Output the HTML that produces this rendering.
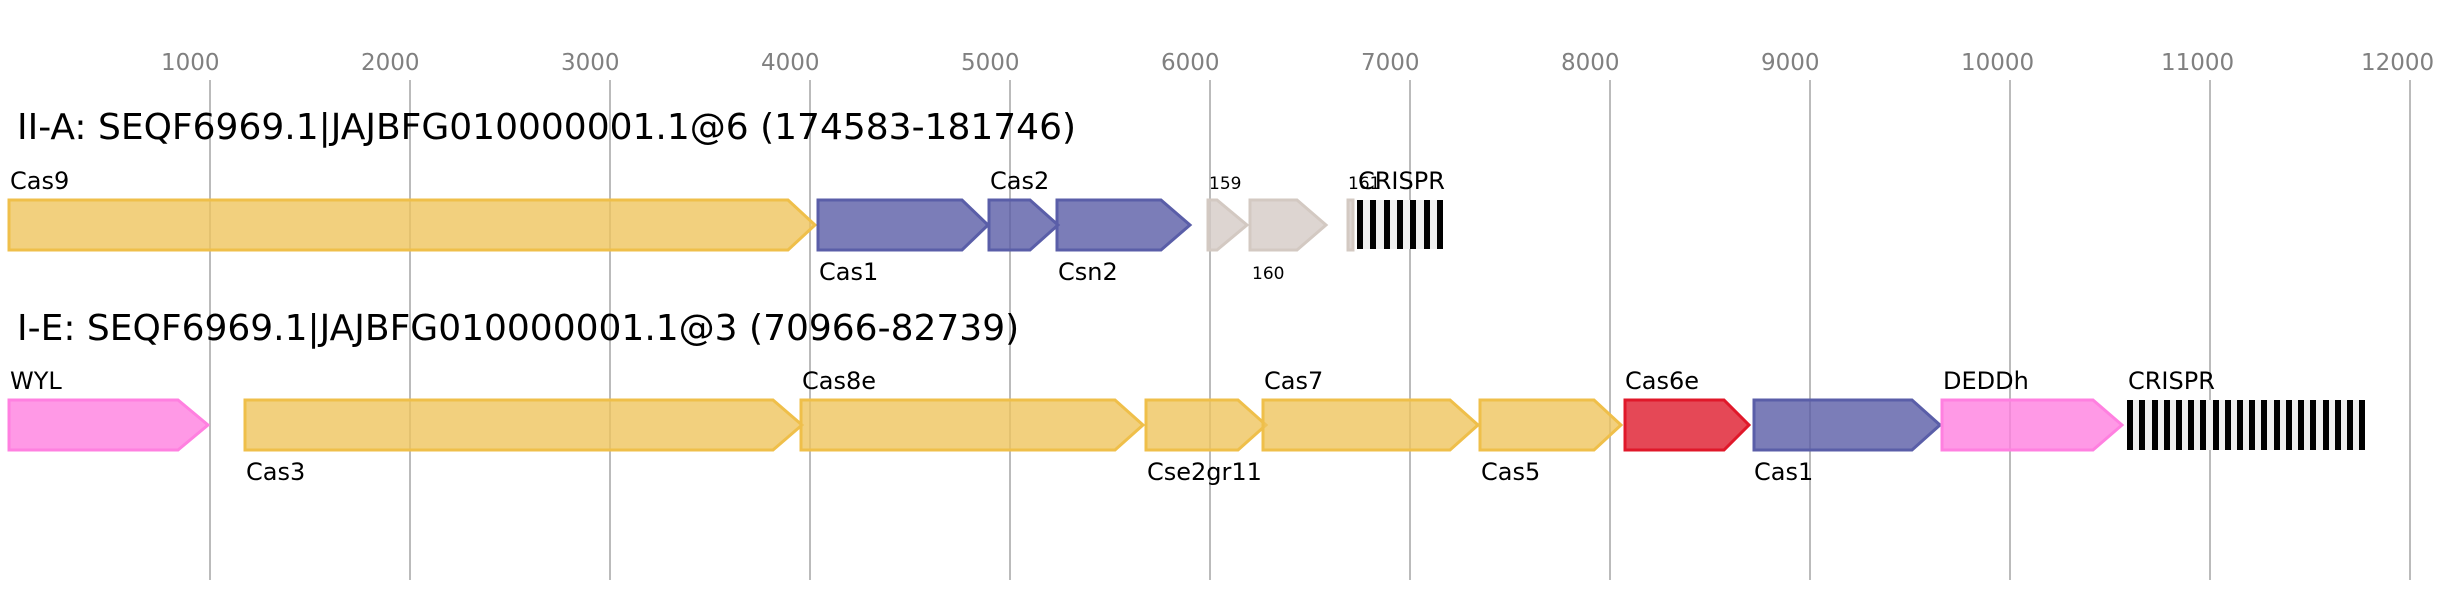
<!DOCTYPE html>
<html><head><meta charset="utf-8"><style>html,body{margin:0;padding:0;background:#fff}svg{display:block}</style></head>
<body>
<svg width="2455" height="600" xmlns="http://www.w3.org/2000/svg" font-family="'DejaVu Sans','Liberation Sans',sans-serif">
<g fill="#808080" font-size="23">
<text x="161" y="70">1000</text><text x="361" y="70">2000</text><text x="561" y="70">3000</text><text x="761" y="70">4000</text>
<text x="961" y="70">5000</text><text x="1161" y="70">6000</text><text x="1361" y="70">7000</text><text x="1561" y="70">8000</text>
<text x="1761" y="70">9000</text><text x="1961" y="70">10000</text><text x="2161" y="70">11000</text><text x="2361" y="70">12000</text>
</g>
<g stroke="#bbb" stroke-width="2">
<line x1="210" y1="80" x2="210" y2="580"/><line x1="410" y1="80" x2="410" y2="580"/><line x1="610" y1="80" x2="610" y2="580"/>
<line x1="810" y1="80" x2="810" y2="580"/><line x1="1010" y1="80" x2="1010" y2="580"/><line x1="1210" y1="80" x2="1210" y2="580"/>
<line x1="1410" y1="80" x2="1410" y2="580"/><line x1="1610" y1="80" x2="1610" y2="580"/><line x1="1810" y1="80" x2="1810" y2="580"/>
<line x1="2010" y1="80" x2="2010" y2="580"/><line x1="2210" y1="80" x2="2210" y2="580"/><line x1="2410" y1="80" x2="2410" y2="580"/>
</g>
<text x="17" y="139" font-size="36" fill="#000">II-A: SEQF6969.1|JAJBFG010000001.1@6 (174583-181746)</text>
<text x="17" y="340" font-size="36" fill="#000">I-E: SEQF6969.1|JAJBFG010000001.1@3 (70966-82739)</text>
<g stroke-width="3" fill-opacity="0.8">
<!-- row 1 -->
<polygon points="9,200 788,200 815,225 788,250 9,250" fill="#efc45e" stroke="#efbf4a"/>
<polygon points="818,200 962,200 988,225 962,250 818,250" fill="#5a5ca6" stroke="#5a5ea8"/>
<polygon points="989,200 1030,200 1058,225 1030,250 989,250" fill="#5a5ca6" stroke="#5a5ea8"/>
<polygon points="1057,200 1161,200 1190,225 1161,250 1057,250" fill="#5a5ca6" stroke="#5a5ea8"/>
<polygon points="1208,200 1217,200 1247,225 1217,250 1208,250" fill="#d5cbc5" stroke="#d3c9c2"/>
<polygon points="1250,200 1297,200 1326,225 1297,250 1250,250" fill="#d5cbc5" stroke="#d3c9c2"/>
<rect x="1348" y="200" width="5" height="50" fill="#d5cbc5" stroke="#d3c9c2"/>
<!-- row 2 -->
<polygon points="9,400 178,400 208,425 178,450 9,450" fill="#ff80e0" stroke="#ff80e0"/>
<polygon points="245,400 773,400 802,425 773,450 245,450" fill="#efc45e" stroke="#efbf4a"/>
<polygon points="801,400 1115,400 1143,425 1115,450 801,450" fill="#efc45e" stroke="#efbf4a"/>
<polygon points="1146,400 1238,400 1266,425 1238,450 1146,450" fill="#efc45e" stroke="#efbf4a"/>
<polygon points="1263,400 1450,400 1478,425 1450,450 1263,450" fill="#efc45e" stroke="#efbf4a"/>
<polygon points="1480,400 1594,400 1621,425 1594,450 1480,450" fill="#efc45e" stroke="#efbf4a"/>
<polygon points="1625,400 1724,400 1749,425 1724,450 1625,450" fill="#de1a2c" stroke="#e0182a"/>
<polygon points="1754,400 1912,400 1940,425 1912,450 1754,450" fill="#5a5ca6" stroke="#5a5ea8"/>
<polygon points="1942,400 2093,400 2122,425 2093,450 1942,450" fill="#ff80e0" stroke="#ff80e0"/>
</g>
<rect x="1357" y="200" width="86" height="49" fill="#efefef"/>
<g fill="#000">
<rect x="1357" y="200" width="6" height="49"/><rect x="1370" y="200" width="6" height="49"/><rect x="1384" y="200" width="6" height="49"/>
<rect x="1397" y="200" width="6" height="49"/><rect x="1410" y="200" width="6" height="49"/><rect x="1424" y="200" width="6" height="49"/>
<rect x="1437" y="200" width="6" height="49"/>
</g>
<rect x="2127" y="400" width="238" height="50" fill="#efefef"/>
<g fill="#000">
<rect x="2127" y="400" width="6" height="50"/><rect x="2139" y="400" width="6" height="50"/><rect x="2152" y="400" width="6" height="50"/><rect x="2164" y="400" width="6" height="50"/>
<rect x="2176" y="400" width="6" height="50"/><rect x="2188" y="400" width="6" height="50"/><rect x="2200" y="400" width="6" height="50"/><rect x="2213" y="400" width="6" height="50"/>
<rect x="2225" y="400" width="6" height="50"/><rect x="2237" y="400" width="6" height="50"/><rect x="2249" y="400" width="6" height="50"/><rect x="2261" y="400" width="6" height="50"/>
<rect x="2274" y="400" width="6" height="50"/><rect x="2286" y="400" width="6" height="50"/><rect x="2298" y="400" width="6" height="50"/><rect x="2310" y="400" width="6" height="50"/>
<rect x="2323" y="400" width="6" height="50"/><rect x="2335" y="400" width="6" height="50"/><rect x="2347" y="400" width="6" height="50"/><rect x="2359" y="400" width="6" height="50"/>
</g>
<g fill="#000" font-size="24">
<text x="10" y="189">Cas9</text>
<text x="819" y="280">Cas1</text>
<text x="990" y="189">Cas2</text>
<text x="1058" y="280">Csn2</text>
<text x="1209" y="189" font-size="17">159</text>
<text x="1252" y="279" font-size="17">160</text>
<text x="1348" y="189" font-size="17">161</text>
<text x="1358" y="189">CRISPR</text>
<text x="10" y="389">WYL</text>
<text x="246" y="480">Cas3</text>
<text x="802" y="389">Cas8e</text>
<text x="1147" y="480">Cse2gr11</text>
<text x="1264" y="389">Cas7</text>
<text x="1481" y="480">Cas5</text>
<text x="1625" y="389">Cas6e</text>
<text x="1754" y="480">Cas1</text>
<text x="1943" y="389">DEDDh</text>
<text x="2128" y="389">CRISPR</text>
</g>
</svg>
</body></html>
